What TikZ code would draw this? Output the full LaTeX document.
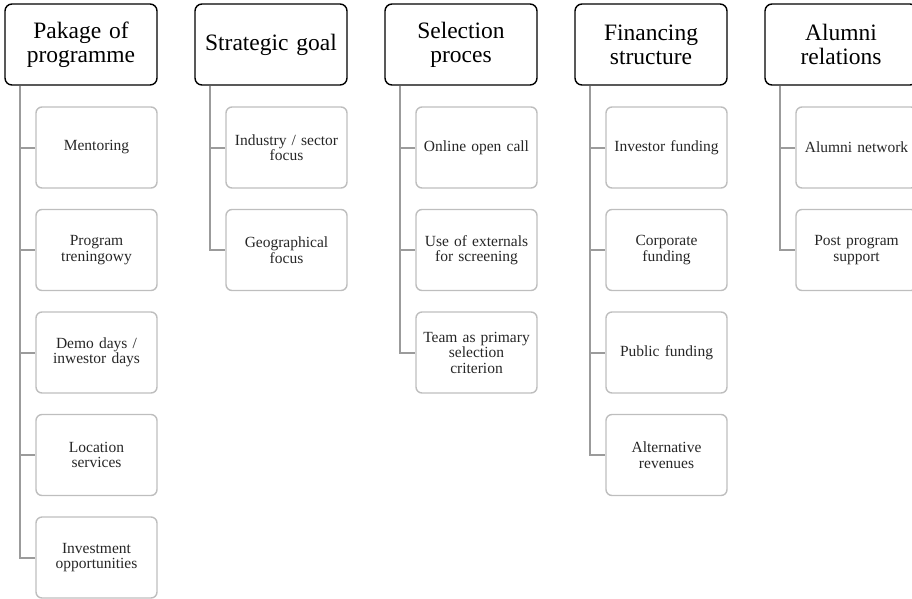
\documentclass[tikz,border=0pt]{standalone}
\usepackage{fontspec}
\setmainfont{Liberation Serif}
\definecolor{boxgray}{RGB}{190,190,190}
\definecolor{linegray}{RGB}{155,155,155}
\begin{document}
\begin{tikzpicture}[x=1pt,y=-1pt,
  head/.style={draw=black, line width=1.4pt, rounded corners=7pt, minimum width=152pt, minimum height=81pt,
    align=center, inner sep=0pt, font=\fontsize{23.5}{24}\selectfont, text width=150pt},
  child/.style={draw=boxgray, line width=1.4pt, rounded corners=6pt, minimum width=121pt, minimum height=81pt,
    align=center, inner sep=0pt, font=\fontsize{15.5}{15.5}\selectfont, text width=118pt, text=black!85},
  conn/.style={draw=linegray, line width=2pt}]
\useasboundingbox (0,0) rectangle (912,598);
% headers
\node[head] (h1) at (81,44.5) {Pakage of\\programme};
\node[head] (h2) at (271,44.5) {Strategic goal};
\node[head] (h3) at (461,44.5) {Selection\\proces};
\node[head] (h4) at (651,44.5) {Financing\\structure};
\node[head] (h5) at (841,44.5) {Alumni\\relations};
% column 1
\node[child] (c11) at (96.5,147.5) {Mentoring};
\node[child] (c12) at (96.5,250) {Program\\treningowy};
\node[child] (c13) at (96.5,352.5) {Demo days /\\inwestor days};
\node[child] (c14) at (96.5,455) {Location\\services};
\node[child] (c15) at (96.5,557.5) {Investment\\opportunities};
% column 2
\node[child] (c21) at (286.5,147.5) {Industry / sector\\focus};
\node[child] (c22) at (286.5,250) {Geographical\\focus};
% column 3
\node[child] (c31) at (476.5,147.5) {Online open call};
\node[child] (c32) at (476.5,250) {Use of externals\\for screening};
\node[child] (c33) at (476.5,352.5) {Team as primary\\selection\\criterion};
% column 4
\node[child] (c41) at (666.5,147.5) {Investor funding};
\node[child] (c42) at (666.5,250) {Corporate\\funding};
\node[child] (c43) at (666.5,352.5) {Public funding};
\node[child] (c44) at (666.5,455) {Alternative\\revenues};
% column 5
\node[child] (c51) at (856.5,147.5) {Alumni network};
\node[child] (c52) at (856.5,250) {Post program\\support};
% connectors
\foreach \c in {c11,c12,c13,c14,c15}{\draw[conn] ([xshift=16pt,yshift=-0.7pt]h1.south west) |- (\c.west);}
\foreach \c in {c21,c22}{\draw[conn] ([xshift=16pt,yshift=-0.7pt]h2.south west) |- (\c.west);}
\foreach \c in {c31,c32,c33}{\draw[conn] ([xshift=16pt,yshift=-0.7pt]h3.south west) |- (\c.west);}
\foreach \c in {c41,c42,c43,c44}{\draw[conn] ([xshift=16pt,yshift=-0.7pt]h4.south west) |- (\c.west);}
\foreach \c in {c51,c52}{\draw[conn] ([xshift=16pt,yshift=-0.7pt]h5.south west) |- (\c.west);}
\end{tikzpicture}
\end{document}
